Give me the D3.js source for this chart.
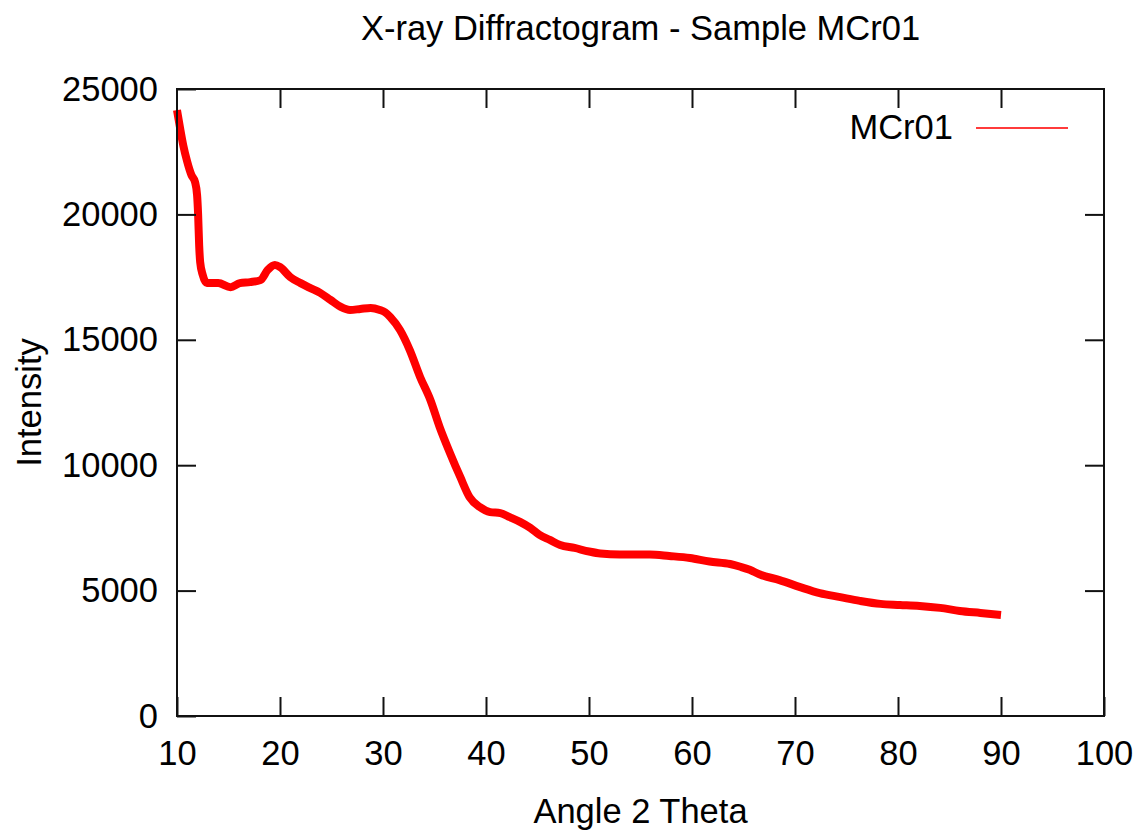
<!DOCTYPE html>
<html>
<head>
<meta charset="utf-8">
<script src="https://cdn.jsdelivr.net/npm/d3@7"></script>
<style>
  body { margin: 0; background: #fff; }
  text { font-family: "Liberation Sans", Arial, sans-serif; fill: #000; }
</style>
</head>
<body>
<div id="chart"></div>
<script>
// values
var theta = [10, 10.3, 10.6, 11.0, 11.4, 11.75, 11.95, 12.05, 12.15, 12.25, 12.5, 12.9, 13.5, 14, 15.2, 16.1, 17.1, 18.1, 18.8, 19.5, 20,
  21, 22, 22.9, 23.9, 24.9, 25.9, 26.8, 27.8, 28.8, 29.7, 30.2, 30.7, 31.65, 32.6, 33.6, 34.6, 35.5, 36.5, 37.5, 38.4, 39.4,
  40.4, 41.4, 42.3, 43.3, 44.3, 45.2, 46.2, 47.2, 48.6, 50, 51.1, 53, 55.9, 57.8, 59.8, 61.7, 63.7, 64.7, 65.6, 66.6, 68.5,
  70.5, 72.4, 74.4, 76.3, 78.3, 80.2, 82.1, 84.1, 86, 88, 90];
var intensity = [24160, 23440, 22770, 22090, 21570, 21290, 20770, 20000, 18780, 18100, 17580, 17260, 17260, 17260, 17100, 17260, 17300, 17380, 17780, 17980, 17900,
  17500, 17260, 17070, 16870, 16590, 16310, 16190, 16230, 16270, 16190, 16100, 15910, 15390, 14590, 13520, 12600, 11520, 10490, 9530, 8730, 8330,
  8130, 8090, 7930, 7740, 7500, 7220, 7020, 6820, 6700, 6560, 6480, 6440, 6440, 6380, 6300, 6160, 6060, 5950, 5830, 5640, 5420,
  5140, 4900, 4740, 4590, 4470, 4430, 4390, 4310, 4190, 4110, 4030];
var xTicks = [10, 20, 30, 40, 50, 60, 70, 80, 90, 100];
var yTicks = [0, 5000, 10000, 15000, 20000, 25000];
var seriesName = "MCr01";

var W = 1138, H = 832;
var margin = {top: 89, right: 34, bottom: 116, left: 177},
    width = W - margin.left - margin.right,
    height = H - margin.top - margin.bottom;

var fontSize = "34.5px";

var svg = d3.select("#chart")
  .append("svg")
    .attr("width", W)
    .attr("height", H);

var g = svg.append("g")
    .attr("transform", "translate(" + margin.left + "," + margin.top + ")");

var x = d3.scaleLinear().domain([10, 100]).range([0, width]);
var y = d3.scaleLinear().domain([0, 25000]).range([height, 0]);

var tickLen = 19;

// curve
var data = theta.map(function(t, i) { return {t: t, v: intensity[i]}; });
var line = d3.line()
    .x(function(d) { return x(d.t); })
    .y(function(d) { return y(d.v); })
    .curve(d3.curveMonotoneX);

g.append("path")
    .datum(data)
    .attr("d", line)
    .attr("fill", "none")
    .attr("stroke", "#ff0000")
    .attr("stroke-width", 8)
    .attr("stroke-linejoin", "round");

// axes (ticks point inward, mirrored on top/right)
function styleAxis(sel) {
  sel.select(".domain").remove();
  sel.selectAll(".tick line").attr("stroke", "#111").attr("stroke-width", 2);
  sel.selectAll(".tick text").style("font-size", fontSize).attr("fill", "#000");
}

g.append("g")
    .attr("transform", "translate(0," + height + ")")
    .call(d3.axisBottom(x).tickValues(xTicks).tickSize(-tickLen).tickPadding(25).tickFormat(d3.format("d")))
    .call(styleAxis);

g.append("g")
    .call(d3.axisTop(x).tickValues(xTicks.slice(1, -1)).tickSize(-tickLen).tickFormat(""))
    .call(styleAxis);

g.append("g")
    .call(d3.axisLeft(y).tickValues(yTicks).tickSize(-tickLen).tickPadding(19).tickFormat(d3.format("d")))
    .call(styleAxis);

g.append("g")
    .attr("transform", "translate(" + width + ",0)")
    .call(d3.axisRight(y).tickValues(yTicks.slice(1, -1)).tickSize(-tickLen).tickFormat(""))
    .call(styleAxis);

// frame
g.append("rect")
    .attr("width", width)
    .attr("height", height)
    .attr("fill", "none")
    .attr("stroke", "#111")
    .attr("stroke-width", 2);

// legend
g.append("text")
    .attr("x", 953 - margin.left)
    .attr("y", 139 - margin.top)
    .attr("text-anchor", "end")
    .style("font-size", fontSize)
    .text(seriesName);
g.append("line")
    .attr("x1", 976 - margin.left)
    .attr("x2", 1068 - margin.left)
    .attr("y1", 128 - margin.top)
    .attr("y2", 128 - margin.top)
    .attr("stroke", "#ff3b3b")
    .attr("stroke-width", 2);

// labels
svg.append("text")
    .attr("x", margin.left + width / 2)
    .attr("y", 40)
    .attr("text-anchor", "middle")
    .style("font-size", fontSize)
    .text("X-ray Diffractogram - Sample " + seriesName);

svg.append("text")
    .attr("x", margin.left + width / 2)
    .attr("y", 823)
    .attr("text-anchor", "middle")
    .style("font-size", fontSize)
    .text("Angle 2 Theta");

svg.append("g")
    .attr("transform", "translate(41," + (margin.top + height / 2) + ")")
  .append("text")
    .attr("text-anchor", "middle")
    .attr("transform", "rotate(-90)")
    .style("font-size", fontSize)
    .text("Intensity");
</script>
</body>
</html>
